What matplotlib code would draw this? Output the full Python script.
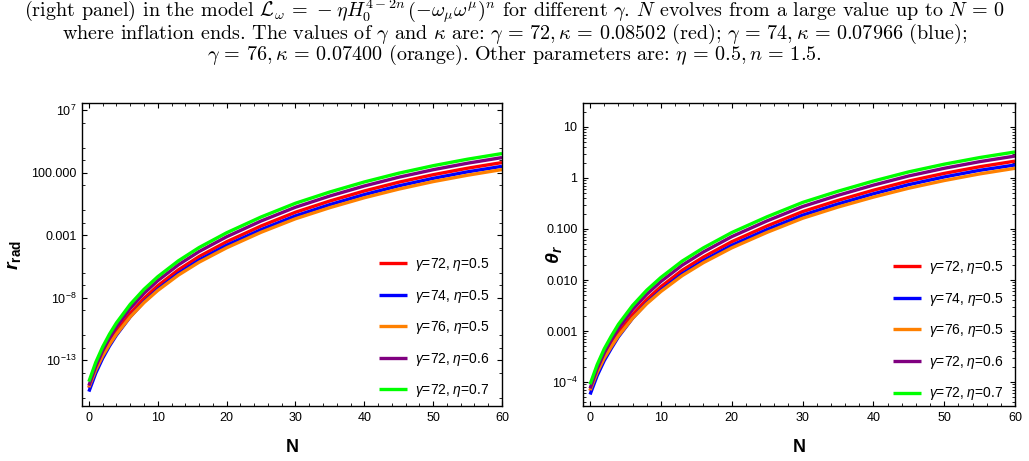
import numpy as np
import matplotlib
matplotlib.use("Agg")
import matplotlib.pyplot as plt
from matplotlib.ticker import FixedLocator, MultipleLocator, LogLocator, NullFormatter

plt.rcParams["font.family"] = ["Liberation Sans", "DejaVu Sans"]
plt.rcParams["mathtext.fontset"] = "custom"
plt.rcParams["mathtext.rm"] = "Liberation Sans"
plt.rcParams["mathtext.it"] = "Liberation Sans:italic"
plt.rcParams["mathtext.bf"] = "Liberation Sans:bold"
plt.rcParams["mathtext.bfit"] = "Liberation Sans:italic:bold"

N = [0, 1, 2, 3, 4, 6, 8, 10, 13, 16, 20, 25, 30, 35, 40, 45, 50, 55, 60]

# log10 r_rad (left panel)
r_g72_e05 = [-15.20, -13.72, -12.55, -11.56, -10.70, -9.25, -8.05, -7.04, -5.77, -4.71,
             -3.53, -2.27, -1.17, -0.27, 0.53, 1.23, 1.83, 2.35, 2.80]
r_g74_e05 = [-15.50, -14.02, -12.84, -11.85, -10.99, -9.53, -8.33, -7.32, -6.05, -4.99,
             -3.81, -2.56, -1.46, -0.56, 0.24, 0.94, 1.54, 2.06, 2.50]
r_g76_e05 = [-15.15, -13.76, -12.65, -11.72, -10.91, -9.53, -8.39, -7.42, -6.19, -5.16,
             -4.01, -2.77, -1.69, -0.80, -0.01, 0.68, 1.28, 1.79, 2.24]
r_g72_e06 = [-15.02, -13.48, -12.25, -11.22, -10.33, -8.85, -7.65, -6.64, -5.37, -4.31,
             -3.13, -1.87, -0.77, 0.13, 0.93, 1.63, 2.23, 2.75, 3.20]
r_g72_e07 = [-14.70, -13.16, -11.93, -10.90, -10.01, -8.53, -7.33, -6.32, -5.05, -3.99,
             -2.81, -1.55, -0.45, 0.45, 1.25, 1.95, 2.55, 3.07, 3.52]

# log10 theta_r (right panel)
t_g72_e05 = [-4.17, -3.80, -3.505, -3.265, -3.04, -2.68, -2.38, -2.13, -1.81, -1.55,
             -1.25, -0.94, -0.66, -0.44, -0.24, -0.06, 0.09, 0.22, 0.33]
t_g74_e05 = [-4.245, -3.875, -3.58, -3.34, -3.115, -2.75, -2.45, -2.20, -1.88, -1.62,
             -1.32, -1.01, -0.73, -0.51, -0.31, -0.13, 0.02, 0.15, 0.255]
t_g76_e05 = [-4.16, -3.81, -3.53, -3.305, -3.095, -2.75, -2.465, -2.225, -1.915, -1.66,
             -1.37, -1.065, -0.79, -0.57, -0.375, -0.20, -0.05, 0.08, 0.19]
t_g72_e06 = [-4.125, -3.74, -3.43, -3.18, -2.95, -2.58, -2.28, -2.03, -1.71, -1.45,
             -1.15, -0.84, -0.56, -0.34, -0.14, 0.04, 0.19, 0.32, 0.43]
t_g72_e07 = [-4.045, -3.66, -3.35, -3.10, -2.87, -2.50, -2.20, -1.95, -1.63, -1.37,
             -1.07, -0.76, -0.48, -0.26, -0.06, 0.12, 0.27, 0.40, 0.51]

labels = [r"$\gamma$=72, $\eta$=0.5", r"$\gamma$=74, $\eta$=0.5", r"$\gamma$=76, $\eta$=0.5",
          r"$\gamma$=72, $\eta$=0.6", r"$\gamma$=72, $\eta$=0.7"]
colors = ["#ff0000", "#0000ff", "#ff8000", "#800080", "#00ff00"]

left_ticks = [1e7, 1e2, 1e-3, 1e-8, 1e-13]
left_ticklabels = [r"$10^{7}$", "100.000", "0.001", r"$10^{-8}$", r"$10^{-13}$"]
right_ticks = [10, 1, 0.1, 0.01, 0.001, 1e-4]
right_ticklabels = ["10", "1", "0.100", "0.010", "0.001", r"$10^{-4}$"]

W, H = 1029, 461
fig = plt.figure(figsize=(W / 100, H / 100), dpi=100)


def px_axes(x0, y0, x1, y1):
    return fig.add_axes([x0 / W, 1 - y1 / H, (x1 - x0) / W, (y1 - y0) / H])


axL = px_axes(82, 103, 502, 406)
axR = px_axes(583, 103, 1015, 406)

for ax, series in [(axL, [r_g72_e05, r_g74_e05, r_g76_e05, r_g72_e06, r_g72_e07]),
                   (axR, [t_g72_e05, t_g74_e05, t_g76_e05, t_g72_e06, t_g72_e07])]:
    for s, c, lab in zip(series, colors, labels):
        ax.plot(N, 10 ** np.array(s), color=c, lw=2.4, label=lab, solid_capstyle="butt")
    ax.set_yscale("log")
    ax.set_xlim(-1, 60)
    ax.xaxis.set_major_locator(MultipleLocator(10))
    ax.xaxis.set_minor_locator(MultipleLocator(2))
    ax.tick_params(which="both", direction="in", top=True, right=True, labelsize=9, pad=4)
    ax.tick_params(which="major", length=3.6, width=0.8)
    ax.tick_params(which="minor", length=2.2, width=0.6)
    for sp in ax.spines.values():
        sp.set_linewidth(1.0)
    ax.set_xlabel("N", fontsize=13, fontweight="bold")
    ax.xaxis.set_label_coords(0.5, -0.108)

axL.set_ylim(10 ** -16.65, 10 ** 7.56)
axL.yaxis.set_major_locator(FixedLocator(left_ticks))
axL.set_yticklabels(left_ticklabels)
axL.yaxis.set_minor_locator(FixedLocator([10.0 ** k for k in
                                          [-16, -14, -12, -11, -9, -7, -6, -4, -2, -1, 1, 3, 4, 6]]))
axL.yaxis.set_minor_formatter(NullFormatter())
axL.set_ylabel(r"$\mathbfit{r}_{\mathbf{rad}}$", fontsize=14)
axL.yaxis.set_label_coords(-0.14, 0.5)

axR.set_ylim(10 ** -4.47, 10 ** 1.47)
axR.yaxis.set_major_locator(FixedLocator(right_ticks))
axR.set_yticklabels(right_ticklabels)
axR.yaxis.set_minor_locator(LogLocator(base=10, subs=np.arange(2, 10), numticks=20))
axR.yaxis.set_minor_formatter(NullFormatter())
axR.set_ylabel(r"$\mathbfit{\theta}_{\mathbfit{r}}$", fontsize=14)
axR.yaxis.set_label_coords(-0.045, 0.5)

legend_kw = dict(frameon=False, fontsize=10, handlelength=2.0, handletextpad=0.6,
                 labelspacing=1.05, borderpad=0, borderaxespad=0, loc="upper left")
axL.legend(bbox_to_anchor=(0.707, 0.495), **legend_kw)
axR.legend(bbox_to_anchor=(0.7176, 0.485), **legend_kw)

caption = [
    r"(right panel) in the model $\mathcal{L}_\omega\,=\,-\eta H_0^{4-2n}\,\left(-\omega_\mu\omega^\mu\right)^n$"
    r" for different $\gamma$. $N$ evolves from a large value up to $N\,=\,0$",
    r"where inflation ends. The values of $\gamma$ and $\kappa$ are: $\gamma\,=\,72, \kappa\,=\,0.08502$ (red);"
    r" $\gamma\,=\,74, \kappa\,=\,0.07966$ (blue);",
    r"$\gamma\,=\,76, \kappa\,=\,0.07400$ (orange). Other parameters are: $\eta\,=\,0.5, n\,=\,1.5$.",
]
for i, line in enumerate(caption):
    fig.text(0.5, 1 - (12 + 21.5 * i) / H, line, ha="center", va="center", fontsize=14.5,
             family=["cmr10", "DejaVu Serif"], math_fontfamily="cm")

fig.savefig("out.png", dpi=100)
